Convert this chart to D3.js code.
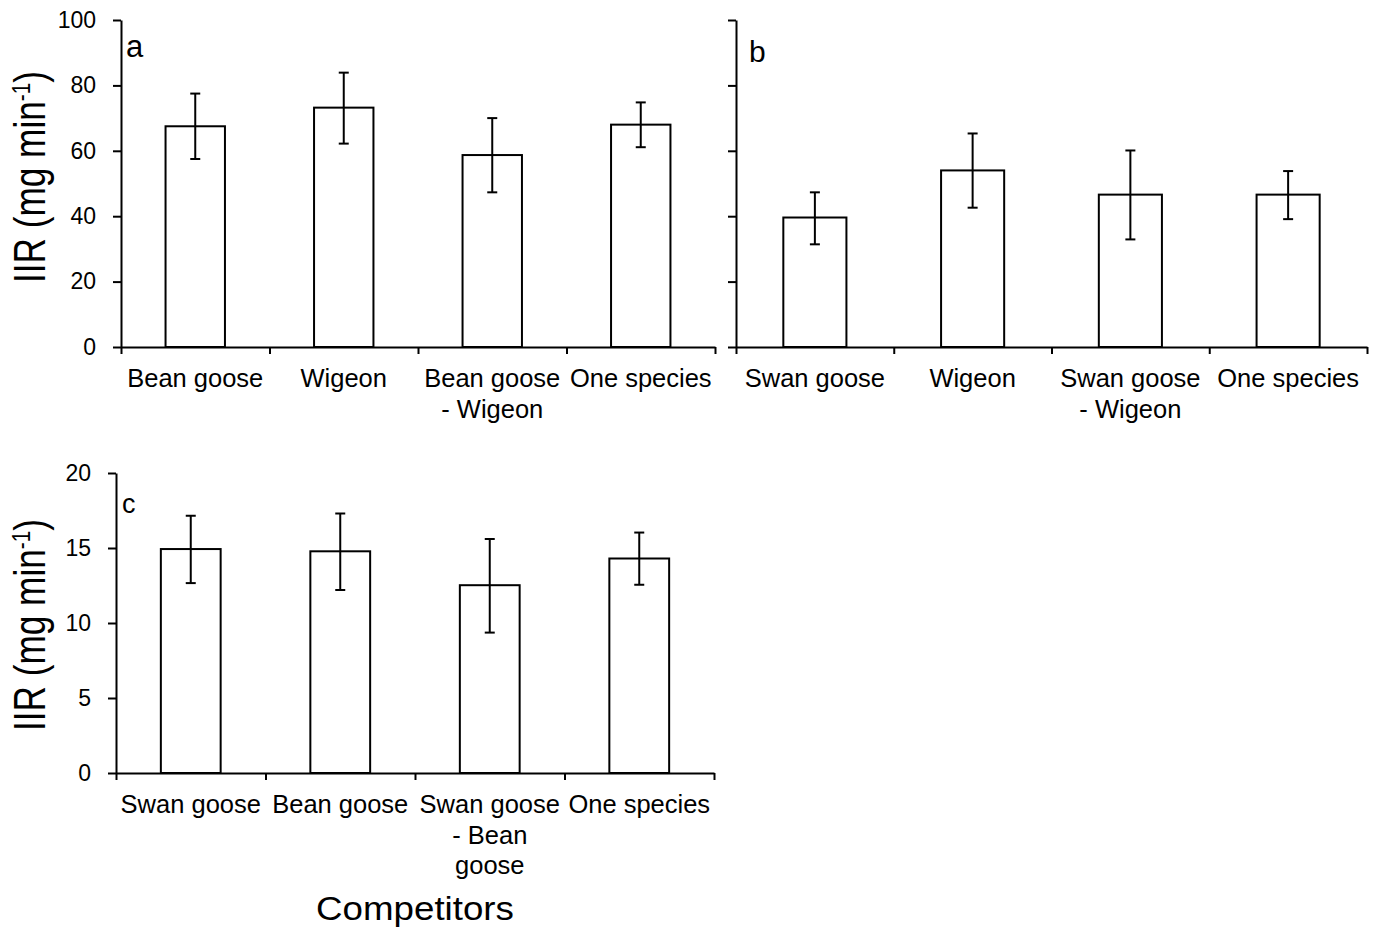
<!DOCTYPE html>
<html>
<head>
<meta charset="utf-8">
<script src="https://cdn.jsdelivr.net/npm/d3@7"></script>
<style>
  body { margin: 0; background: #fff; }
  text { font-family: "Liberation Sans", Arial, sans-serif; fill: #000; }
</style>
</head>
<body>
<svg id="chart" width="1378" height="930"></svg>
<script>
// panel a
const catsA = ["Bean goose", "Wigeon", "Bean goose\n- Wigeon", "One species"]
const meanA = [67.5, 73.2, 58.7, 68.0]
const lowA  = [57.5, 62.2, 47.3, 61.1]
const highA = [77.5, 83.9, 70.0, 74.8]

// panel b
const catsB = ["Swan goose", "Wigeon", "Swan goose\n- Wigeon", "One species"]
const meanB = [39.6, 54.0, 46.6, 46.6]
const lowB  = [31.4, 42.6, 32.9, 39.1]
const highB = [47.3, 65.3, 60.1, 53.8]

// panel c
const catsC = ["Swan goose", "Bean goose", "Swan goose\n- Bean\ngoose", "One species"]
const meanC = [14.93, 14.78, 12.52, 14.3]
const lowC  = [12.66, 12.2, 9.36, 12.55]
const highC = [17.15, 17.3, 15.6, 16.03]

const ticksAB = [0, 20, 40, 60, 80, 100]
const ticksC = [0, 5, 10, 15, 20]

const svg = d3.select('#chart')

function drawPanel(opt){
    let g = svg.append('g')

    let y = d3.scaleLinear()
                .domain([0, opt.ticks[opt.ticks.length-1]])
                .range([opt.y0, opt.y1])

    let x = d3.scaleBand()
                .domain(opt.cats)
                .range([opt.x0, opt.x1])
                .paddingInner(0.6)
                .paddingOuter(0.3)

    // boundary ticks on the category axis
    let xb = d3.scaleLinear()
                .domain([0, opt.cats.length])
                .range([opt.x0, opt.x1])

    let data = opt.cats.map(function(c, i){
        return {cat: c, mean: opt.mean[i], low: opt.low[i], high: opt.high[i]}
    })

    g.selectAll('rect')
        .data(data)
      .enter().append('rect')
        .attr('x', d => x(d.cat))
        .attr('y', d => y(d.mean))
        .attr('width', x.bandwidth())
        .attr('height', d => y(0) - y(d.mean))
        .attr('fill', '#fff')
        .attr('stroke', '#000')
        .attr('stroke-width', 2)

    let err = g.selectAll('g.err')
        .data(data)
      .enter().append('g')
        .attr('class', 'err')
        .attr('stroke', '#000')
        .attr('stroke-width', 2)

    err.append('line')
        .attr('x1', d => x(d.cat) + x.bandwidth()/2)
        .attr('x2', d => x(d.cat) + x.bandwidth()/2)
        .attr('y1', d => y(d.low))
        .attr('y2', d => y(d.high))
    err.append('line')
        .attr('x1', d => x(d.cat) + x.bandwidth()/2 - 5)
        .attr('x2', d => x(d.cat) + x.bandwidth()/2 + 5)
        .attr('y1', d => y(d.low))
        .attr('y2', d => y(d.low))
    err.append('line')
        .attr('x1', d => x(d.cat) + x.bandwidth()/2 - 5)
        .attr('x2', d => x(d.cat) + x.bandwidth()/2 + 5)
        .attr('y1', d => y(d.high))
        .attr('y2', d => y(d.high))

    // y axis
    let yAxis = g.append('g')
        .attr('transform', `translate(${opt.x0},0)`)
        .call(d3.axisLeft(y)
            .tickValues(opt.ticks)
            .tickSize(8)
            .tickSizeOuter(0)
            .tickPadding(17)
            .tickFormat(opt.labels ? d3.format('d') : ''))
    yAxis.selectAll('path, line').attr('stroke', '#000').attr('stroke-width', 2)
    yAxis.selectAll('text')
        .style('font-family', '"Liberation Sans", Arial, sans-serif')
        .style('font-size', '23px')
        .attr('fill', '#000')

    // x axis
    let xAxis = g.append('g')
        .attr('transform', `translate(0,${opt.y0})`)
        .call(d3.axisBottom(xb)
            .tickValues(d3.range(opt.cats.length + 1))
            .tickSize(7)
            .tickSizeOuter(0)
            .tickFormat(''))
    xAxis.selectAll('path, line').attr('stroke', '#000').attr('stroke-width', 2)

    // category labels
    let lab = g.selectAll('text.cat')
        .data(data)
      .enter().append('text')
        .attr('class', 'cat')
        .attr('text-anchor', 'middle')
        .style('font-size', '25.5px')
        .attr('transform', d => `translate(${x(d.cat) + x.bandwidth()/2},${opt.y0 + 40})`)
    lab.selectAll('tspan')
        .data(d => d.cat.split('\n'))
      .enter().append('tspan')
        .attr('x', 0)
        .attr('y', (d, i) => i * 30.5)
        .text(d => d)

    // panel letter
    g.append('text')
        .attr('x', opt.x0 + opt.letterDx)
        .attr('y', opt.y1 + opt.letterDy)
        .style('font-size', opt.letterSize + 'px')
        .text(opt.letter)

    // y title
    if(opt.title){
        let t = g.append('text')
            .attr('text-anchor', 'middle')
            .style('font-size', '44px')
            .attr('transform', `translate(45,${opt.titleY}) rotate(-90) scale(0.8,1)`)
        t.append('tspan').text('IIR (mg min')
        t.append('tspan').attr('dy', -15).style('font-size', '26px').text('-1')
        t.append('tspan').attr('dy', 15).text(')')
    }
}

drawPanel({cats: catsA, mean: meanA, low: lowA, high: highA, ticks: ticksAB,
    x0: 121, x1: 715, y0: 347, y1: 20, labels: true, title: true, titleY: 177,
    letter: 'a', letterDx: 5, letterDy: 37, letterSize: 31})

drawPanel({cats: catsB, mean: meanB, low: lowB, high: highB, ticks: ticksAB,
    x0: 736, x1: 1367, y0: 347, y1: 20, labels: false, title: false,
    letter: 'b', letterDx: 13, letterDy: 42, letterSize: 30})

drawPanel({cats: catsC, mean: meanC, low: lowC, high: highC, ticks: ticksC,
    x0: 116, x1: 714, y0: 773, y1: 473, labels: true, title: true, titleY: 625,
    letter: 'c', letterDx: 6, letterDy: 40, letterSize: 27})

svg.append('text')
    .attr('text-anchor', 'middle')
    .attr('transform', 'translate(415,920) scale(1.08,1)')
    .style('font-size', '34px')
    .text('Competitors')
</script>
</body>
</html>
